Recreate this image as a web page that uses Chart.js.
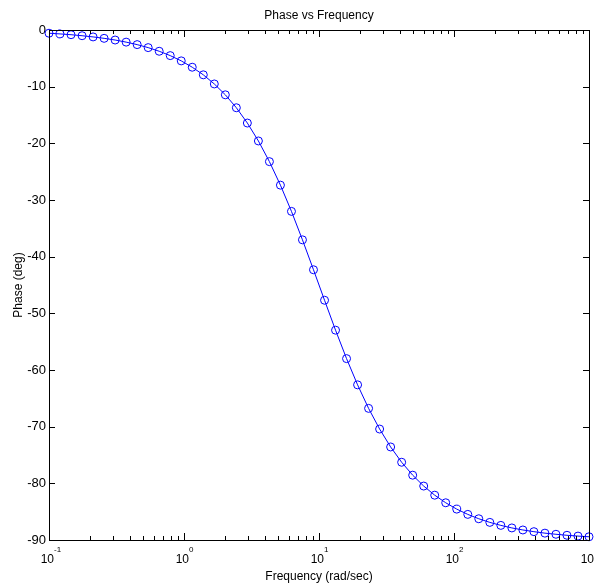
<!DOCTYPE html>
<html>
<head>
<meta charset="utf-8">
<script src="https://cdn.jsdelivr.net/npm/chart.js@4/dist/chart.umd.min.js"></script>
<style>
  html, body { margin: 0; padding: 0; background: #fff; }
  #contenedor { width: 594px; height: 588px; position: relative; }
</style>
</head>
<body>
<div id="contenedor"><canvas id="grafico"></canvas></div>
<script>
/* Datos (frecuencia en rad/s, fase en grados) */
const frecuencias = [0.1, 0.1207, 0.1456, 0.1758, 0.2121, 0.2560, 0.3089, 0.3728, 0.4498, 0.5429,
  0.6551, 0.7906, 0.9541, 1.151, 1.390, 1.677, 2.024, 2.442, 2.947, 3.557,
  4.292, 5.179, 6.251, 7.543, 9.103, 10.99, 13.26, 16.00, 19.31, 23.30,
  28.12, 33.93, 40.95, 49.42, 59.64, 71.97, 86.85, 104.8, 126.5, 152.6,
  184.2, 222.3, 268.3, 323.7, 390.7, 471.5, 569.0, 686.6, 828.6, 1000];
const fase = [-0.57, -0.69, -0.83, -1.01, -1.22, -1.47, -1.77, -2.14, -2.58, -3.11,
  -3.75, -4.52, -5.45, -6.57, -7.91, -9.52, -11.44, -13.72, -16.42, -19.58,
  -23.23, -27.38, -32.01, -37.03, -42.31, -47.69, -52.97, -57.99, -62.62, -66.77,
  -70.42, -73.58, -76.28, -78.56, -80.48, -82.09, -83.43, -84.55, -85.48, -86.25,
  -86.89, -87.42, -87.87, -88.23, -88.53, -88.79, -88.99, -89.17, -89.31, -89.43];
const ticksY = [0, -10, -20, -30, -40, -50, -60, -70, -80, -90];
const decadas = [-1, 0, 1, 2, 3];

const titulo = 'Phase vs Frequency';
const tituloX = 'Frequency (rad/sec)';
const tituloY = 'Phase (deg)';

const fuente = '"Liberation Sans", Arial, sans-serif';

/* Plugin que dibuja el marco, las marcas hacia adentro y los textos estilo MATLAB */
const marcoMatlab = {
  id: 'marcoMatlab',
  afterDraw(chart) {
    const { ctx, chartArea: a, scales: { x, y } } = chart;
    ctx.save();
    ctx.strokeStyle = '#000';
    ctx.lineWidth = 1;

    // marco
    ctx.strokeRect(a.left + 0.5, a.top + 0.5, a.right - a.left, a.bottom - a.top);

    ctx.beginPath();
    // marcas eje y (izquierda y derecha)
    ticksY.forEach(v => {
      const py = Math.round(y.getPixelForValue(v)) + 0.5;
      ctx.moveTo(a.left, py); ctx.lineTo(a.left + 6, py);
      ctx.moveTo(a.right, py); ctx.lineTo(a.right - 6, py);
    });
    // marcas eje x (abajo y arriba), mayores y menores
    decadas.forEach(d => {
      for (let m = 1; m <= 9; m++) {
        const v = m * Math.pow(10, d);
        if (v > 1000) break;
        const px = Math.round(x.getPixelForValue(v)) + 0.5;
        const largo = m === 1 ? 7 : 4;
        ctx.moveTo(px, a.bottom); ctx.lineTo(px, a.bottom - largo);
        ctx.moveTo(px, a.top); ctx.lineTo(px, a.top + largo);
      }
    });
    ctx.stroke();

    ctx.fillStyle = '#000';
    // etiquetas eje x con exponente
    decadas.forEach(d => {
      const px = x.getPixelForValue(Math.pow(10, d));
      ctx.font = '12px ' + fuente;
      ctx.textAlign = 'right';
      ctx.textBaseline = 'alphabetic';
      ctx.fillText('10', px + 5, 563);
      ctx.font = '8px ' + fuente;
      ctx.textAlign = 'left';
      ctx.fillText(String(d), px + 5, 552);
    });

    // titulos
    ctx.font = '12px ' + fuente;
    ctx.textAlign = 'center';
    const centroX = (a.left + a.right) / 2;
    ctx.fillText(titulo, centroX, 19);
    ctx.fillText(tituloX, centroX, 580);

    ctx.translate(22, (a.top + a.bottom) / 2);
    ctx.rotate(-Math.PI / 2);
    ctx.fillText(tituloY, 0, 0);
    ctx.restore();
  }
};

const puntos = frecuencias.map((f, i) => ({ x: f, y: fase[i] }));

new Chart(document.querySelector('#grafico'), {
  type: 'line',
  data: {
    datasets: [{
      data: puntos,
      borderColor: '#0000ff',
      borderWidth: 1,
      pointStyle: 'circle',
      pointRadius: 4,
      pointBorderWidth: 1,
      pointBorderColor: '#0000ff',
      pointBackgroundColor: 'rgba(0,0,0,0)',
      tension: 0,
      clip: false
    }]
  },
  options: {
    responsive: true,
    maintainAspectRatio: false,
    animation: false,
    layout: { padding: { top: 30, right: 5, left: 0, bottom: 0 } },
    plugins: {
      legend: { display: false },
      tooltip: { enabled: false }
    },
    scales: {
      x: {
        type: 'logarithmic',
        min: 0.1,
        max: 1000,
        grid: { display: false, drawTicks: false },
        border: { display: false },
        ticks: { display: false },
        afterFit: s => { s.height = 48; }
      },
      y: {
        type: 'linear',
        min: -90,
        max: 0,
        grid: { display: false, drawTicks: false },
        border: { display: false },
        afterBuildTicks: s => { s.ticks = ticksY.map(v => ({ value: v })); },
        ticks: {
          color: '#000',
          padding: 3,
          font: { family: fuente, size: 13 }
        },
        afterFit: s => { s.width = 49; }
      }
    }
  },
  plugins: [marcoMatlab]
});
</script>
</body>
</html>
